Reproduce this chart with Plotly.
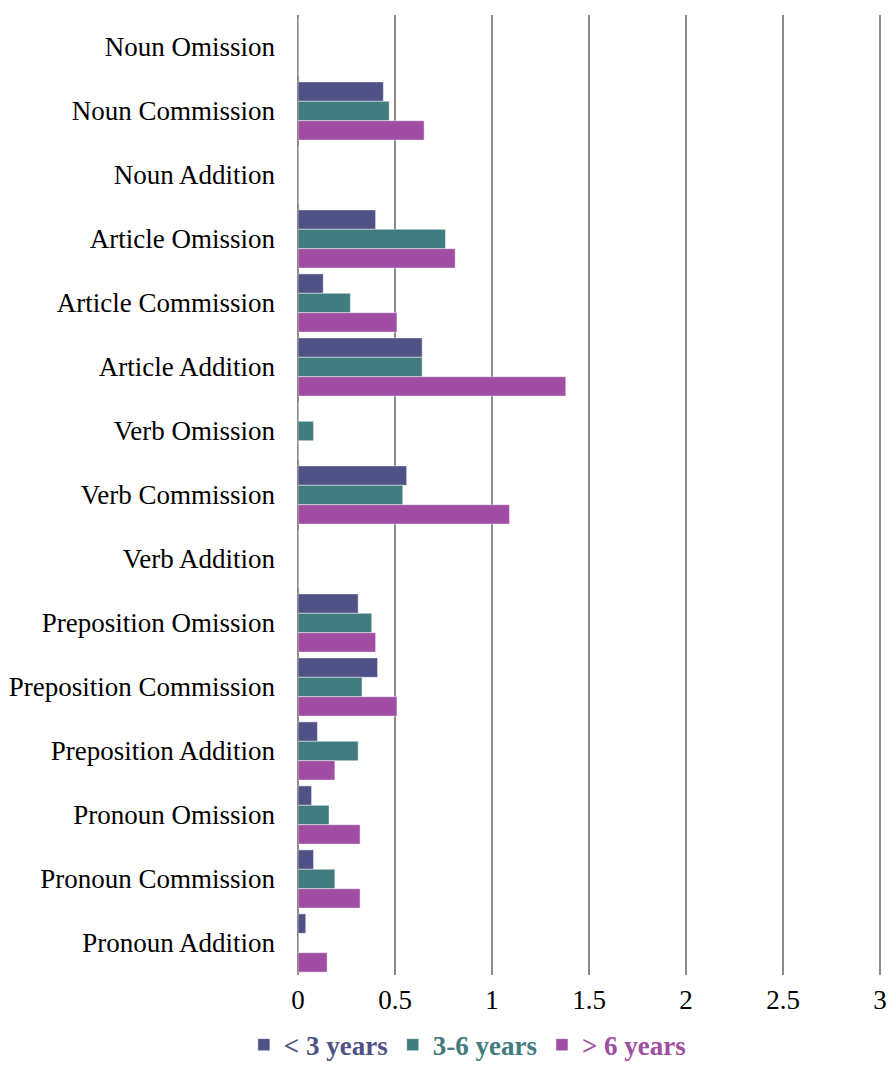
import plotly.graph_objects as go

categories = ["Noun Omission", "Noun Commission", "Noun Addition", "Article Omission",
              "Article Commission", "Article Addition", "Verb Omission", "Verb Commission",
              "Verb Addition", "Preposition Omission", "Preposition Commission",
              "Preposition Addition", "Pronoun Omission", "Pronoun Commission", "Pronoun Addition"]
under3 = [0, 0.44, 0, 0.40, 0.13, 0.64, 0, 0.56, 0, 0.31, 0.41, 0.10, 0.07, 0.08, 0.04]
from3to6 = [0, 0.47, 0, 0.76, 0.27, 0.64, 0.08, 0.54, 0, 0.38, 0.33, 0.31, 0.16, 0.19, 0]
over6 = [0, 0.65, 0, 0.81, 0.51, 1.38, 0, 1.09, 0, 0.40, 0.51, 0.19, 0.32, 0.32, 0.15]
series_names = ["< 3 years", "3-6 years", "> 6 years"]
colors = ["#4F5187", "#417C7F", "#A04DA3"]
tick_vals = [0, 0.5, 1, 1.5, 2, 2.5, 3]
tick_text = ["0", "0.5", "1", "1.5", "2", "2.5", "3"]

fig = go.Figure()
for name, vals, c in zip(series_names, [under3, from3to6, over6], colors):
    fig.add_trace(go.Bar(
        y=categories, x=vals, orientation="h",
        name=f"<b><span style='color:{c}'>{name}</span></b>",
        marker=dict(color=c, line=dict(color="rgba(255,255,255,0.45)", width=1)),
    ))

fig.update_layout(
    width=880, height=1054,
    margin=dict(l=290, r=6, t=7, b=87, autoexpand=False),
    paper_bgcolor="white", plot_bgcolor="white",
    barmode="group", bargap=0.09, bargroupgap=0,
    font=dict(family="Liberation Serif", size=27, color="black"),
    showlegend=True,
    legend=dict(orientation="h", x=0.29, xanchor="center", y=-0.073, yanchor="middle",
                font=dict(family="Liberation Serif", size=27),
                itemwidth=30, traceorder="normal", bgcolor="rgba(0,0,0,0)"),
)
fig.update_xaxes(range=[0, 3.01], tickvals=tick_vals, ticktext=tick_text,
                 showgrid=True, gridcolor="#8C8C8C", gridwidth=2,
                 zeroline=True, zerolinecolor="#8C8C8C", zerolinewidth=2,
                 showline=False, ticks="", ticklabelstandoff=6, automargin=False,
                 ticklabeloverflow="allow")
fig.update_yaxes(autorange="reversed", showgrid=False, showline=False, ticks="",
                 ticklabelstandoff=22, automargin=False)

fig.write_html("out.html")
